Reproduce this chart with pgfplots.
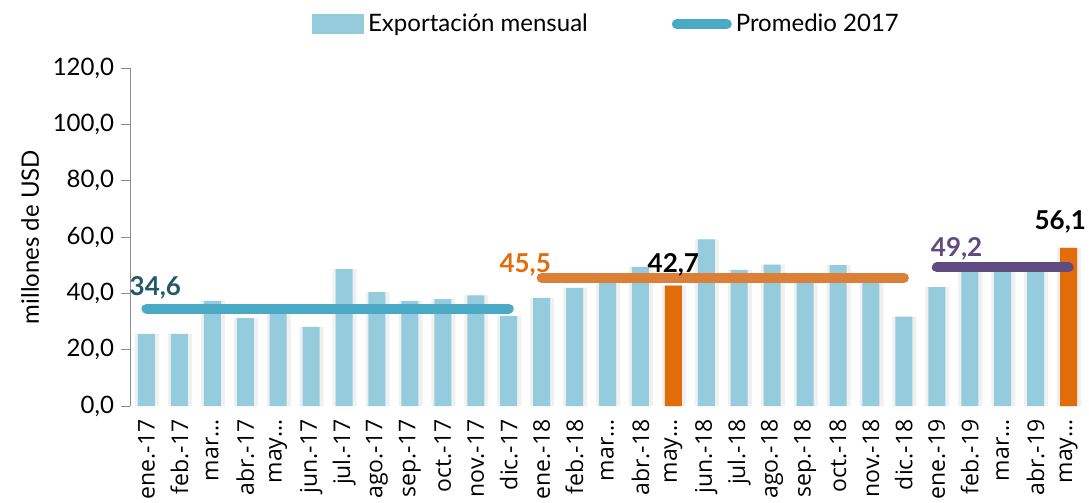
\documentclass[border=0pt]{standalone}
\usepackage{fontspec}
\setmainfont{Lato}
\newfontfamily\tickfont{Open Sans}
\usepackage{pgfplots}
\usepackage{pgfplotstable}
\pgfplotsset{compat=1.18}
\definecolor{barblue}{RGB}{148,204,221}
\definecolor{barorange}{RGB}{227,108,10}
\definecolor{avg17}{RGB}{74,170,197}
\definecolor{avg18}{RGB}{220,128,55}
\definecolor{avg19}{RGB}{95,75,128}
\definecolor{lab17}{RGB}{35,88,104}
\definecolor{axisgray}{RGB}{140,140,140}

% monthly exports, millions USD
\pgfplotstableread{
i v
0 25.6
1 25.6
2 37.3
3 31.2
4 33.2
5 28.1
6 48.6
7 40.4
8 37.2
9 37.9
10 39.3
11 32.0
12 38.4
13 41.9
14 44.5
15 49.4
16 42.7
17 59.2
18 48.3
19 50.2
20 45.0
21 50.0
22 45.0
23 31.7
24 42.2
25 50.0
26 47.5
27 50.0
28 56.1
}\exports

\begin{document}
\begin{tikzpicture}
\begin{axis}[
  name=ax,
  scale only axis, width=477.5pt, height=169pt,
  xmin=-0.5, xmax=28.5, ymin=0, ymax=120,
  clip=false,
  axis lines*=left,
  x axis line style={draw=none},
  y axis line style={draw=axisgray},
  xtick={0,...,28},
  xticklabels={ene.-17,feb.-17,mar…,abr.-17,may…,jun.-17,jul.-17,ago.-17,sep.-17,oct.-17,nov.-17,dic.-17,ene.-18,feb.-18,mar…,abr.-18,may…,jun.-18,jul.-18,ago.-18,sep.-18,oct.-18,nov.-18,dic.-18,ene.-19,feb.-19,mar…,abr.-19,may…},
  xtick style={draw=none},
  x tick label style={rotate=90, anchor=east, inner sep=2pt, font=\tickfont\fontsize{11.5}{11.5}\selectfont},
  ytick={0,20,...,120},
  ytick style={draw=axisgray},
  tick align=outside,
  major tick length=4.5pt,
  yticklabel style={font=\fontsize{12}{12}\selectfont,
    /pgf/number format/.cd, fixed, fixed zerofill, precision=1, use comma},
  /pgf/number format/assume math mode=true,
  ylabel={millones de USD},
  ylabel style={font=\fontsize{12}{12}\selectfont},
  legend columns=2,
  legend style={at={(0.5,1)}, anchor=south, yshift=12.5pt, draw=none,
    font=\fontsize{12}{12}\selectfont,
    /tikz/every even column/.append style={column sep=40pt}},
]
% soft shadow behind the bars
\addplot[ybar, bar width=12pt, bar shift=0.3pt, fill=black!6, draw=none, forget plot]
  table[x=i, y=v] {\exports};
\addplot[ybar, bar width=8.5pt, bar shift=0pt, fill=barblue, draw=none,
  legend image code/.code={\fill[barblue] (0pt,-5pt) rectangle (26pt,5pt);}]
  table[x=i, y=v] {\exports};
\addlegendentry{Exportación mensual}
\addplot[ybar, bar width=8.5pt, bar shift=0pt, fill=barorange, draw=none, forget plot]
  coordinates {(16,42.7)(28,56.1)};

% yearly averages
\addplot[avg17, line width=5pt, line cap=round, sharp plot,
  legend image code/.code={\draw[avg17, line width=5pt, line cap=round] (2.5pt,0pt) -- (27.5pt,0pt);}]
  coordinates {(0,34.6)(11,34.6)};
\addlegendentry{Promedio 2017}
\addplot[avg18, line width=5pt, line cap=round, sharp plot, forget plot]
  coordinates {(12,45.5)(23,45.5)};
\addplot[avg19, line width=5pt, line cap=round, sharp plot, forget plot]
  coordinates {(24,49.2)(28,49.2)};

\node[font=\bfseries\fontsize{13}{13}\selectfont, text=lab17] at (axis cs:0.27,41.9) {34,6};
\node[font=\bfseries\fontsize{13}{13}\selectfont, text=barorange] at (axis cs:11.5,50) {45,5};
\node[font=\bfseries\fontsize{13}{13}\selectfont] at (axis cs:16,50) {42,7};
\node[font=\bfseries\fontsize{13}{13}\selectfont, text=avg19] at (axis cs:24.6,55.8) {49,2};
\node[font=\bfseries\fontsize{13}{13}\selectfont] at (axis cs:27.75,65.4) {56,1};
\end{axis}
\pgfresetboundingbox
\path[use as bounding box] ([xshift=-65pt, yshift=-48pt]ax.south west) rectangle ([xshift=2pt, yshift=34pt]ax.north east);
\end{tikzpicture}
\end{document}
